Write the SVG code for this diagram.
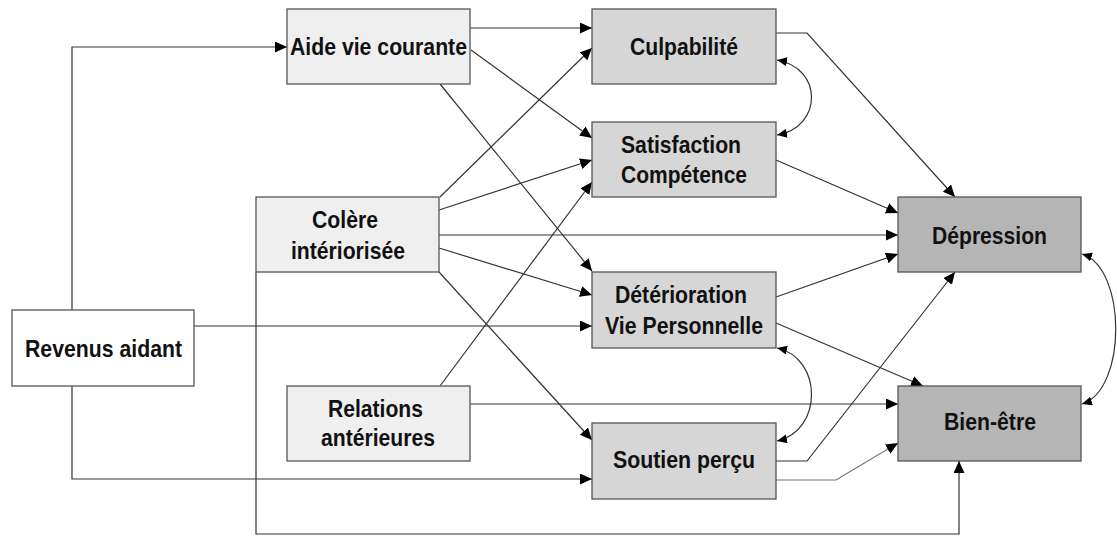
<svg xmlns="http://www.w3.org/2000/svg" width="1117" height="536" viewBox="0 0 1117 536">
<style>
.box{stroke:#555;stroke-width:1.3}
.l1{fill:#efefef}.l0{fill:#fff}.l2{fill:#d6d6d6}.l3{fill:#b5b5b5}
text{font-family:"Liberation Sans",Arial,sans-serif;font-weight:bold;font-size:24px;fill:#111;text-anchor:middle}
.c path{fill:none;stroke:#333;stroke-width:1.2}
</style>
<defs>
<marker id="a" markerUnits="userSpaceOnUse" markerWidth="14" markerHeight="12" refX="12" refY="5.5" orient="auto-start-reverse"><path d="M0,0 L12,5.5 L0,11 Z" fill="#000"/></marker>
<marker id="s" markerUnits="userSpaceOnUse" markerWidth="12" markerHeight="10" refX="10" refY="4.5" orient="auto-start-reverse"><path d="M0,0 L10,4.5 L0,9 Z" fill="#000"/></marker>
</defs>
<rect width="1117" height="536" fill="#fff"/>
<g class="c" id="connectors">
<path d="M72,310 V47 H287" marker-end="url(#a)"/>
<path d="M72,386 V479 H592" marker-end="url(#a)"/>
<path d="M194,326 H592" marker-end="url(#a)"/>
<path d="M256,272 V534 H959 V461" marker-end="url(#a)"/>
<path d="M470,28 H592" marker-end="url(#a)"/>
<path d="M471,50 L592,138" marker-end="url(#a)"/>
<path d="M440,84 L592,271" marker-end="url(#a)"/>
<path d="M440,197 L592,48" marker-end="url(#a)"/>
<path d="M439,210 L592,160" marker-end="url(#a)"/>
<path d="M439,235 H898" marker-end="url(#a)"/>
<path d="M439,248 L592,295" marker-end="url(#a)"/>
<path d="M439,272 L592,440" marker-end="url(#a)"/>
<path d="M440,386 L592,182" marker-end="url(#a)"/>
<path d="M470,404 H898" marker-end="url(#a)"/>
<path d="M776,33 H807 L955,197" marker-end="url(#a)"/>
<path d="M776,160 L898,213" marker-end="url(#a)"/>
<path d="M776,297 L898,254" marker-end="url(#a)"/>
<path d="M776,323 L923,386" marker-end="url(#a)"/>
<path d="M776,461 H807 L955,272" marker-end="url(#a)"/>
<path d="M776,480 H836 L898,443" style="stroke:#777" marker-end="url(#a)"/>
<path d="M777,60 C823,68 823,127 777,135" marker-start="url(#s)" marker-end="url(#s)"/>
<path d="M777,348 C823,358 823,431 777,441" marker-start="url(#s)" marker-end="url(#s)"/>
<path d="M1082,254 C1127,268 1127,390 1082,404" marker-start="url(#s)" marker-end="url(#s)"/>
</g>
<g id="aide"><rect class="box l1" x="287" y="9" width="183" height="75"/><text x="378.5" y="55" font-size="25" textLength="177" lengthAdjust="spacingAndGlyphs">Aide vie courante</text></g>
<g id="colere"><rect class="box l1" x="256" y="197" width="183" height="75"/><text x="345" y="228" textLength="66" lengthAdjust="spacingAndGlyphs">Colère</text><text x="348" y="259" textLength="114" lengthAdjust="spacingAndGlyphs">intériorisée</text></g>
<g id="revenus"><rect class="box l0" x="12" y="310" width="182" height="76"/><text x="103.5" y="357" font-size="25" textLength="157" lengthAdjust="spacingAndGlyphs">Revenus aidant</text></g>
<g id="relations"><rect class="box l1" x="287" y="386" width="183" height="75"/><text x="375.5" y="417" textLength="95" lengthAdjust="spacingAndGlyphs">Relations</text><text x="378" y="446" textLength="114" lengthAdjust="spacingAndGlyphs">antérieures</text></g>
<g id="culpabilite"><rect class="box l2" x="592" y="9" width="184" height="75"/><text x="684" y="55" textLength="108" lengthAdjust="spacingAndGlyphs">Culpabilité</text></g>
<g id="satisfaction"><rect class="box l2" x="592" y="122" width="184" height="75"/><text x="681" y="153" textLength="120" lengthAdjust="spacingAndGlyphs">Satisfaction</text><text x="684" y="183" textLength="126" lengthAdjust="spacingAndGlyphs">Compétence</text></g>
<g id="deterioration"><rect class="box l2" x="592" y="272" width="184" height="76"/><text x="681" y="303" textLength="132" lengthAdjust="spacingAndGlyphs">Détérioration</text><text x="684" y="334" textLength="158" lengthAdjust="spacingAndGlyphs">Vie Personnelle</text></g>
<g id="soutien"><rect class="box l2" x="592" y="423" width="184" height="76"/><text x="684" y="468" textLength="142" lengthAdjust="spacingAndGlyphs">Soutien perçu</text></g>
<g id="depression"><rect class="box l3" x="898" y="197" width="183" height="75"/><text x="989.5" y="244" textLength="115" lengthAdjust="spacingAndGlyphs">Dépression</text></g>
<g id="bienetre"><rect class="box l3" x="898" y="386" width="183" height="75"/><text x="990" y="430" textLength="92" lengthAdjust="spacingAndGlyphs">Bien-être</text></g>
</svg>
